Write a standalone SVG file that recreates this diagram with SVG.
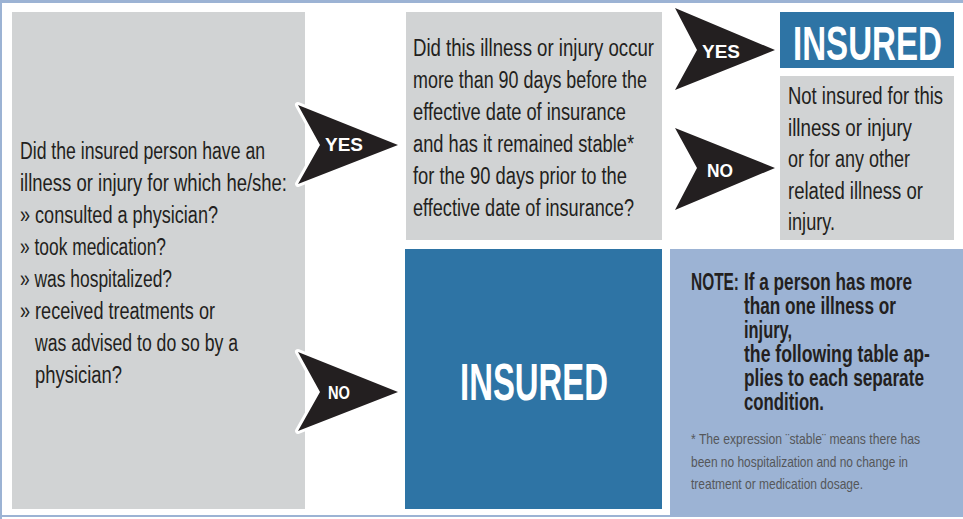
<svg xmlns="http://www.w3.org/2000/svg" width="963" height="519" viewBox="0 0 963 519">
<style>
.t{font-family:"Liberation Sans","DejaVu Sans",sans-serif;font-size:23px;fill:#231f20}
.nb{font-family:"Liberation Sans","DejaVu Sans",sans-serif;font-size:23px;font-weight:bold;fill:#231f20}
.fn{font-family:"Liberation Sans","DejaVu Sans",sans-serif;font-size:15px;fill:#55575a}
.big{font-family:"Liberation Sans","DejaVu Sans",sans-serif;font-weight:bold;fill:#ffffff}
.al{font-family:"Liberation Sans","DejaVu Sans",sans-serif;font-size:18px;font-weight:bold;fill:#ffffff}
.gray{fill:#d1d3d4}
.blue{fill:#2e74a5}
.arrow{fill:#231f20}
.arrowo{fill:#231f20;stroke:#ffffff;stroke-width:6;stroke-linejoin:round;paint-order:stroke}
</style>
<rect x="0" y="0" width="963" height="519" fill="#ffffff"/>
<g id="frame">
<rect x="0" y="0" width="963" height="3" fill="#9cb3d4"/>
<rect x="0" y="0" width="2" height="519" fill="#9cb3d4"/>
<rect x="0" y="515" width="963" height="2" fill="#9cb3d4"/>
</g>
<g id="question1">
<rect class="gray" x="12" y="12" width="293" height="497"/>
<text class="t" x="20" y="159" textLength="245" lengthAdjust="spacingAndGlyphs">Did the insured person have an</text>
<text class="t" x="20" y="191" textLength="267" lengthAdjust="spacingAndGlyphs">illness or injury for which he/she:</text>
<text class="t" x="20" y="223" textLength="198" lengthAdjust="spacingAndGlyphs">» consulted a physician?</text>
<text class="t" x="20" y="255" textLength="146" lengthAdjust="spacingAndGlyphs">» took medication?</text>
<text class="t" x="20" y="287" textLength="152" lengthAdjust="spacingAndGlyphs">» was hospitalized?</text>
<text class="t" x="20" y="319" textLength="195" lengthAdjust="spacingAndGlyphs">» received treatments or</text>
<text class="t" x="35" y="351" textLength="203" lengthAdjust="spacingAndGlyphs">was advised to do so by a</text>
<text class="t" x="35" y="383" textLength="87" lengthAdjust="spacingAndGlyphs">physician?</text>
</g>
<g id="question2">
<rect class="gray" x="406" y="12" width="256" height="228"/>
<text class="t" x="413" y="56" textLength="241" lengthAdjust="spacingAndGlyphs">Did this illness or injury occur</text>
<text class="t" x="413" y="88" textLength="234" lengthAdjust="spacingAndGlyphs">more than 90 days before the</text>
<text class="t" x="413" y="120" textLength="213" lengthAdjust="spacingAndGlyphs">effective date of insurance</text>
<text class="t" x="413" y="152" textLength="221" lengthAdjust="spacingAndGlyphs">and has it remained stable*</text>
<text class="t" x="413" y="184" textLength="214" lengthAdjust="spacingAndGlyphs">for the 90 days prior to the</text>
<text class="t" x="413" y="216" textLength="221" lengthAdjust="spacingAndGlyphs">effective date of insurance?</text>
</g>
<g id="insured-top">
<rect class="blue" x="780" y="12" width="174" height="56"/>
<text class="big" x="793" y="60" font-size="48" textLength="149" lengthAdjust="spacingAndGlyphs">INSURED</text>
</g>
<g id="not-insured">
<rect class="gray" x="780" y="76" width="174" height="164"/>
<text class="t" x="788" y="104" textLength="155" lengthAdjust="spacingAndGlyphs">Not insured for this</text>
<text class="t" x="788" y="136" textLength="124" lengthAdjust="spacingAndGlyphs">illness or injury</text>
<text class="t" x="788" y="167" textLength="122" lengthAdjust="spacingAndGlyphs">or for any other</text>
<text class="t" x="788" y="199" textLength="135" lengthAdjust="spacingAndGlyphs">related illness or</text>
<text class="t" x="788" y="230" textLength="47" lengthAdjust="spacingAndGlyphs">injury.</text>
</g>
<g id="insured-bottom">
<rect class="blue" x="405" y="249" width="257" height="260"/>
<text class="big" x="460" y="400" font-size="51" textLength="148" lengthAdjust="spacingAndGlyphs">INSURED</text>
</g>
<g id="note">
<rect fill="#9cb3d4" x="670" y="249" width="293" height="266"/>
<text class="nb" x="691" y="290" textLength="48" lengthAdjust="spacingAndGlyphs">NOTE:</text>
<text class="nb" x="744" y="290" textLength="168" lengthAdjust="spacingAndGlyphs">If a person has more</text>
<text class="nb" x="744" y="314" textLength="152" lengthAdjust="spacingAndGlyphs">than one illness or</text>
<text class="nb" x="744" y="338" textLength="48" lengthAdjust="spacingAndGlyphs">injury,</text>
<text class="nb" x="744" y="362" textLength="186" lengthAdjust="spacingAndGlyphs">the following table ap-</text>
<text class="nb" x="744" y="386" textLength="180" lengthAdjust="spacingAndGlyphs">plies to each separate</text>
<text class="nb" x="744" y="410" textLength="80" lengthAdjust="spacingAndGlyphs">condition.</text>
<text class="fn" x="691" y="444" textLength="229" lengthAdjust="spacingAndGlyphs">* The expression ¨stable¨ means there has</text>
<text class="fn" x="691" y="467" textLength="217" lengthAdjust="spacingAndGlyphs">been no hospitalization and no change in</text>
<text class="fn" x="691" y="489" textLength="172" lengthAdjust="spacingAndGlyphs">treatment or medication dosage.</text>
</g>
<g id="connectors">
<g id="yes1">
<polygon class="arrowo" points="298,105 398,145 298,184 320,145"/>
<text class="al" x="325" y="151" textLength="38" lengthAdjust="spacingAndGlyphs">YES</text>
</g>
<g id="no1">
<polygon class="arrowo" points="298,352 398,392 298,431 320,392"/>
<text class="al" x="328" y="399" textLength="22" lengthAdjust="spacingAndGlyphs">NO</text>
</g>
<g id="yes2">
<polygon class="arrow" points="675,8 775,50 675,90 697,50"/>
<text class="al" x="702" y="58" textLength="38" lengthAdjust="spacingAndGlyphs">YES</text>
</g>
<g id="no2">
<polygon class="arrow" points="675,128 775,168 675,210 697,168"/>
<text class="al" x="707" y="177" textLength="26" lengthAdjust="spacingAndGlyphs">NO</text>
</g>
</g>
</svg>
